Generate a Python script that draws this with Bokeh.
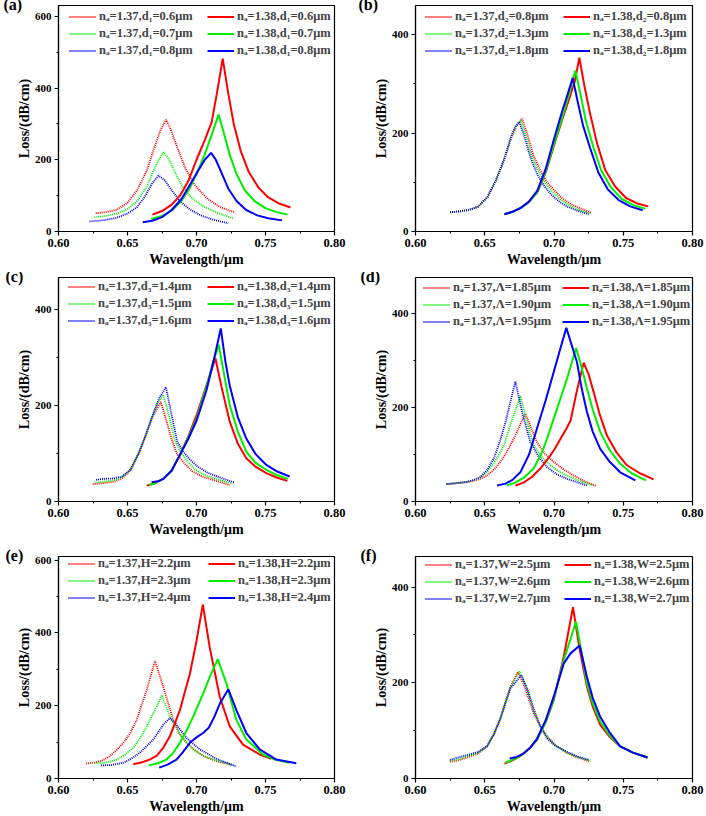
from bokeh.plotting import figure
from bokeh.layouts import gridplot
from bokeh.models import Legend, LegendItem, FixedTicker, Range1d, NumeralTickFormatter
from bokeh.embed import file_html
from bokeh.resources import INLINE

# ---------------- data ----------------
# Panel (a)
a137r_wl = [0.627,0.635,0.642,0.650,0.657,0.664,0.670,0.674,0.678,0.681,0.686,0.692,0.699,0.708,0.717,0.728]
a137r_loss = [51,54,60,80,115,170,240,283,312,287,235,175,128,91,68,53]
a137g_wl = [0.626,0.634,0.642,0.650,0.657,0.664,0.670,0.676,0.680,0.685,0.690,0.697,0.705,0.715,0.727]
a137g_loss = [40,43,50,62,85,125,180,221,202,160,125,92,70,52,36]
a137b_wl = [0.6225,0.632,0.642,0.650,0.657,0.663,0.668,0.6725,0.677,0.682,0.688,0.695,0.703,0.712,0.723]
a137b_loss = [28,31,38,50,68,100,135,156,143,115,85,62,45,33,23]
a138r_wl = [0.668,0.675,0.682,0.688,0.694,0.700,0.706,0.711,0.715,0.719,0.723,0.727,0.732,0.738,0.745,0.752,0.760,0.768]
a138r_loss = [47,57,75,100,140,200,255,305,390,482,385,300,225,165,122,95,78,67]
a138g_wl = [0.667,0.675,0.682,0.689,0.695,0.700,0.706,0.711,0.716,0.720,0.724,0.729,0.735,0.742,0.750,0.758,0.766]
a138g_loss = [35,43,58,85,120,160,215,270,326,272,215,160,115,85,65,54,47]
a138b_wl = [0.661,0.668,0.675,0.682,0.689,0.695,0.700,0.706,0.7106,0.714,0.718,0.723,0.729,0.736,0.744,0.752,0.762]
a138b_loss = [26,30,40,60,90,128,162,200,219,200,165,120,85,60,45,37,31]

# Panel (b)
b137r_wl = [0.625,0.632,0.639,0.645,0.652,0.658,0.664,0.669,0.673,0.677,0.681,0.685,0.690,0.695,0.700,0.706,0.712,0.719,0.727]
b137r_loss = [39,41,44,50,70,103,145,188,215,229,195,155,125,100,84,67,56,47,38]
b137g_wl = [0.625,0.632,0.639,0.645,0.652,0.658,0.664,0.669,0.672,0.676,0.680,0.684,0.689,0.694,0.699,0.705,0.711,0.718,0.726]
b137g_loss = [39,41,44,50,70,103,145,190,212,226,192,152,122,97,80,64,53,44,36]
b137b_wl = [0.625,0.632,0.639,0.645,0.652,0.658,0.664,0.669,0.672,0.675,0.679,0.683,0.688,0.693,0.698,0.704,0.710,0.717,0.725]
b137b_loss = [39,41,44,50,70,104,147,193,213,222,190,150,116,92,75,60,50,42,35]
b138r_wl = [0.6642,0.670,0.676,0.682,0.688,0.694,0.700,0.706,0.711,0.715,0.7183,0.722,0.726,0.731,0.737,0.744,0.752,0.760,0.768]
b138r_loss = [35,40,48,60,80,120,175,228,270,305,353,295,240,180,125,92,68,57,51]
b138g_wl = [0.6642,0.670,0.676,0.682,0.688,0.694,0.700,0.706,0.711,0.7154,0.719,0.723,0.728,0.734,0.741,0.749,0.757,0.766]
b138g_loss = [35,40,48,60,80,122,178,232,280,327,280,225,175,125,90,66,54,46]
b138b_wl = [0.6642,0.670,0.676,0.682,0.688,0.694,0.700,0.706,0.710,0.7135,0.717,0.721,0.726,0.732,0.739,0.747,0.755,0.764]
b138b_loss = [35,40,48,61,83,127,188,245,280,312,265,215,170,120,85,63,51,43]

# Panel (c)
c137r_wl = [0.6248,0.632,0.640,0.646,0.652,0.658,0.663,0.668,0.6742,0.678,0.682,0.686,0.691,0.697,0.704,0.712,0.7241]
c137r_loss = [36,38,41,48,64,98,135,175,207,170,130,98,80,63,52,45,34]
c137g_wl = [0.626,0.632,0.640,0.646,0.652,0.658,0.663,0.668,0.672,0.6759,0.680,0.684,0.688,0.693,0.699,0.706,0.714,0.7258]
c137g_loss = [39,41,44,50,65,99,136,177,205,222,180,130,105,85,66,55,47,37]
c137b_wl = [0.6272,0.632,0.640,0.646,0.652,0.658,0.663,0.668,0.673,0.6778,0.682,0.686,0.690,0.695,0.701,0.708,0.716,0.7277]
c137b_loss = [45,47,48,52,66,100,137,178,215,238,180,125,105,88,72,60,51,39]
c138r_wl = [0.6639,0.670,0.676,0.682,0.688,0.694,0.700,0.7072,0.7137,0.718,0.7241,0.730,0.7361,0.743,0.7506,0.758,0.7658]
c138r_loss = [33,38,47,65,97,135,179,241,298,240,166,120,90,72,59,50,43]
c138g_wl = [0.6655,0.670,0.676,0.682,0.688,0.694,0.700,0.7072,0.712,0.7161,0.720,0.7241,0.730,0.7361,0.743,0.7506,0.758,0.7663]
c138g_loss = [34,38,47,65,97,133,172,238,290,326,265,200,145,103,80,66,55,47]
c138b_wl = [0.6675,0.672,0.676,0.682,0.688,0.694,0.700,0.7072,0.713,0.7176,0.721,0.7241,0.730,0.7361,0.743,0.7506,0.758,0.7675]
c138b_loss = [40,42,47,64,97,130,168,231,300,360,290,241,175,131,98,76,63,52]

# Panel (d)
d137r_wl = [0.6224,0.630,0.638,0.645,0.6517,0.658,0.6637,0.669,0.6733,0.6793,0.683,0.6877,0.693,0.6998,0.707,0.7142,0.722,0.7305]
d137r_loss = [37,39,41,46,55,72,94,122,148,187,160,126,103,84,68,55,43,33]
d137g_wl = [0.6224,0.630,0.638,0.645,0.6517,0.658,0.6637,0.6709,0.6757,0.680,0.6853,0.691,0.6974,0.704,0.7118,0.720,0.7281]
d137g_loss = [37,39,42,48,62,88,119,183,224,175,119,95,77,63,52,42,34]
d137b_wl = [0.6224,0.630,0.637,0.642,0.647,0.652,0.6565,0.661,0.665,0.6721,0.677,0.6829,0.689,0.695,0.702,0.7094,0.7238]
d137b_loss = [37,39,42,46,52,68,91,128,169,255,190,126,95,73,58,48,34]
d138r_wl = [0.6721,0.678,0.684,0.6901,0.696,0.7006,0.7046,0.709,0.712,0.7165,0.7214,0.725,0.7286,0.733,0.7382,0.745,0.7526,0.762,0.7719]
d138r_loss = [34,40,52,70,92,112,133,155,172,235,295,270,233,185,140,105,77,60,47]
d138g_wl = [0.6661,0.672,0.678,0.6853,0.691,0.6955,0.6998,0.705,0.7094,0.7159,0.7195,0.7238,0.728,0.7334,0.740,0.7478,0.756,0.7663]
d138g_loss = [34,40,50,70,102,138,176,222,261,326,290,240,195,148,110,80,60,45]
d138b_wl = [0.6589,0.665,0.670,0.6757,0.682,0.6877,0.694,0.6998,0.7046,0.7089,0.7125,0.7166,0.720,0.7238,0.728,0.7334,0.740,0.7478,0.7587]
d138b_loss = [34,38,46,62,100,155,215,275,325,369,335,296,240,190,148,112,85,62,45]

# Panel (e)
e137r_wl = [0.620,0.626,0.632,0.6373,0.642,0.647,0.652,0.6566,0.6639,0.6699,0.6759,0.6831,0.688,0.6928,0.698,0.7048,0.714,0.725]
e137r_loss = [41,44,50,62,78,98,125,161,243,323,252,161,122,98,80,62,48,38]
e137g_wl = [0.626,0.632,0.6373,0.6422,0.648,0.6542,0.659,0.6639,0.6711,0.675,0.6807,0.688,0.6976,0.704,0.712,0.727]
e137g_loss = [42,43,46,52,65,84,110,143,197,229,170,120,80,64,52,36]
e137b_wl = [0.6308,0.638,0.647,0.653,0.659,0.6687,0.6759,0.6807,0.6855,0.6928,0.7024,0.7145,0.729]
e137b_loss = [36,37,43,55,71,107,148,166,148,111,80,54,33]
e138r_wl = [0.6542,0.660,0.666,0.6711,0.676,0.6807,0.688,0.6952,0.700,0.7046,0.7096,0.7169,0.7241,0.7337,0.7458,0.7542]
e138r_loss = [39,44,52,62,85,116,188,288,378,478,360,224,143,93,66,54]
e138g_wl = [0.6655,0.672,0.6783,0.683,0.688,0.693,0.6976,0.7048,0.7096,0.7154,0.7217,0.7289,0.7361,0.7482,0.757,0.767]
e138g_loss = [36,42,52,70,98,133,170,233,279,328,261,161,107,66,52,43]
e138b_wl = [0.673,0.679,0.6855,0.690,0.6952,0.700,0.7048,0.709,0.713,0.7169,0.7231,0.7289,0.7361,0.7458,0.7578,0.7723]
e138b_loss = [30,38,52,72,98,113,125,140,170,206,245,188,125,80,52,42]

# Panel (f)
f137r_wl = [0.6248,0.631,0.6373,0.645,0.6517,0.6565,0.6613,0.665,0.6685,0.674,0.679,0.6853,0.690,0.695,0.701,0.7094,0.717,0.7262]
f137r_loss = [35,38,44,52,67,92,126,160,192,223,190,136,110,88,70,53,44,35]
f137g_wl = [0.6248,0.631,0.6373,0.645,0.6517,0.6565,0.6613,0.665,0.6685,0.6752,0.680,0.6853,0.690,0.695,0.701,0.7094,0.717,0.7262]
f137g_loss = [37,40,46,53,67,92,126,160,190,224,192,140,110,87,69,54,45,37]
f137b_wl = [0.6248,0.631,0.6373,0.645,0.6517,0.6565,0.6613,0.665,0.6685,0.6764,0.681,0.6853,0.690,0.695,0.701,0.7094,0.716,0.725]
f137b_loss = [39,44,49,55,68,92,125,158,188,216,185,146,110,84,68,56,47,39]
f138r_wl = [0.6642,0.670,0.676,0.682,0.6877,0.694,0.6998,0.707,0.7137,0.7185,0.7238,0.728,0.7334,0.740,0.7478,0.757,0.7675]
f138r_loss = [31,38,48,62,81,118,164,254,358,270,192,150,112,88,67,54,44]
f138g_wl = [0.6649,0.670,0.676,0.682,0.6877,0.694,0.6998,0.707,0.7159,0.7195,0.7238,0.728,0.7334,0.740,0.7478,0.757,0.7675]
f138g_loss = [33,39,48,62,81,118,166,247,328,270,199,157,119,91,67,54,44]
f138b_wl = [0.668,0.673,0.678,0.683,0.6877,0.694,0.6998,0.707,0.7118,0.7185,0.7238,0.728,0.7334,0.740,0.7478,0.757,0.7675]
f138b_loss = [42,45,52,65,83,122,171,240,261,278,212,168,129,97,67,54,44]

# Legend labels
a_lab137 = ["nₐ=1.37,d₁=0.6μm", "nₐ=1.37,d₁=0.7μm", "nₐ=1.37,d₁=0.8μm"]
a_lab138 = ["nₐ=1.38,d₁=0.6μm", "nₐ=1.38,d₁=0.7μm", "nₐ=1.38,d₁=0.8μm"]
b_lab137 = ["nₐ=1.37,d₂=0.8μm", "nₐ=1.37,d₂=1.3μm", "nₐ=1.37,d₂=1.8μm"]
b_lab138 = ["nₐ=1.38,d₂=0.8μm", "nₐ=1.38,d₂=1.3μm", "nₐ=1.38,d₂=1.8μm"]
c_lab137 = ["nₐ=1.37,d₃=1.4μm", "nₐ=1.37,d₃=1.5μm", "nₐ=1.37,d₃=1.6μm"]
c_lab138 = ["nₐ=1.38,d₃=1.4μm", "nₐ=1.38,d₃=1.5μm", "nₐ=1.38,d₃=1.6μm"]
d_lab137 = ["nₐ=1.37,Λ=1.85μm", "nₐ=1.37,Λ=1.90μm", "nₐ=1.37,Λ=1.95μm"]
d_lab138 = ["nₐ=1.38,Λ=1.85μm", "nₐ=1.38,Λ=1.90μm", "nₐ=1.38,Λ=1.95μm"]
e_lab137 = ["nₐ=1.37,H=2.2μm", "nₐ=1.37,H=2.3μm", "nₐ=1.37,H=2.4μm"]
e_lab138 = ["nₐ=1.38,H=2.2μm", "nₐ=1.38,H=2.3μm", "nₐ=1.38,H=2.4μm"]
f_lab137 = ["nₐ=1.37,W=2.5μm", "nₐ=1.37,W=2.6μm", "nₐ=1.37,W=2.7μm"]
f_lab138 = ["nₐ=1.38,W=2.5μm", "nₐ=1.38,W=2.6μm", "nₐ=1.38,W=2.7μm"]

x_ticks = [0.60, 0.65, 0.70, 0.75, 0.80]
x_minor = [0.625, 0.675, 0.725, 0.775]
y_ticks = [0, 200, 400, 600]
y_minor = [100, 300, 500]

# ---------------- styling / layout ----------------
COLORS = ["#FF0000", "#00EE00", "#0000FF"]
FONT = "Liberation Serif"
W, H = 353, 272

# geometry per panel: left, right, top, bottom borders, legend col1 x, col2 x,
# legend top offset, tag x, y-range top
GEOM = {
    "a": (58, 19, 5, 41, 11, 149, 2.5, 3, 630),
    "b": (62, 14, 5, 41, 10, 148, 2.5, 5, 459),
    "c": (58, 18, 5, 42, 10, 149, 1.5, 5, 466),
    "d": (62, 14, 5, 43, 8, 147, 1.5, 7, 476),
    "e": (58, 18, 12, 36, 10, 150, 0.5, 5, 610),
    "f": (62, 14, 12, 37, 10, 149, 0.5, 7, 464),
}


def make_panel(tag, wl137, loss137, wl138, loss138, lab137, lab138):
    left, right, top, bottom, c1x, c2x, legtop, tagx, ymax = GEOM[tag]
    p = figure(width=W, height=H, output_backend="svg", toolbar_location=None,
               x_range=Range1d(0.6, 0.8), y_range=Range1d(0, ymax),
               min_border_left=left, min_border_right=right,
               min_border_top=top, min_border_bottom=bottom)
    p.xgrid.visible = False
    p.ygrid.visible = False
    p.outline_line_color = "black"
    p.outline_line_width = 1.2
    p.background_fill_color = "white"
    p.border_fill_color = "white"

    # panel tag drawn as the plot title, pulled down beside the frame corner
    p.title.text = "(" + tag + ")"
    p.title.text_font = FONT
    p.title.text_font_style = "bold"
    p.title.text_font_size = "16px"
    p.title.text_color = "black"
    p.title.align = "left"
    p.title.vertical_align = "top"
    p.title.standoff = -18
    p.title.offset = tagx - left

    p.xaxis.ticker = FixedTicker(ticks=x_ticks, minor_ticks=x_minor)
    p.yaxis.ticker = FixedTicker(ticks=y_ticks, minor_ticks=y_minor)
    p.xaxis.formatter = NumeralTickFormatter(format="0.00")
    p.xaxis.axis_label = "Wavelength/μm"
    p.yaxis.axis_label = "Loss/(dB/cm)"
    for ax in (p.xaxis, p.yaxis):
        ax.axis_label_text_font = FONT
        ax.axis_label_text_font_style = "bold"
        ax.axis_label_text_font_size = "14px"
        ax.major_label_text_font = FONT
        ax.major_label_text_font_style = "bold"
        ax.major_label_standoff = 3
        ax.major_tick_in = 0
        ax.major_tick_out = 4
        ax.minor_tick_in = 0
        ax.minor_tick_out = 2
        ax.axis_line_width = 1.2
        ax.major_tick_line_width = 1.2
        ax.minor_tick_line_width = 1
        ax.axis_label_text_color = "black"
        ax.major_label_text_color = "black"
    p.xaxis.axis_label_standoff = 2
    p.yaxis.axis_label_standoff = 0
    p.xaxis.major_label_text_font_size = "12.5px"
    p.yaxis.major_label_text_font_size = "11px"

    items137, items138 = [], []
    for wl, lo, col, lab in zip(wl137, loss137, COLORS, lab137):
        r = p.line(wl, lo, line_color=col, line_width=1.8, line_dash="1 1")
        items137.append(LegendItem(label=lab, renderers=[r]))
    for wl, lo, col, lab in zip(wl138, loss138, COLORS, lab138):
        r = p.line(wl, lo, line_color=col, line_width=2)
        items138.append(LegendItem(label=lab, renderers=[r]))

    frame_h = H - top - bottom
    leg_h = 3 * 17
    vy = frame_h - leg_h - legtop
    for items, cx in ((items137, c1x), (items138, c2x)):
        leg = Legend(items=items, location=(cx, vy),
                     label_text_font=FONT, label_text_font_style="bold",
                     label_text_font_size="12.5px", glyph_width=27, glyph_height=17,
                     label_height=17, label_standoff=3, spacing=0, padding=0, margin=0,
                     border_line_color=None, background_fill_alpha=0)
        p.add_layout(leg, "center")
    return p


pa = make_panel("a", [a137r_wl, a137g_wl, a137b_wl], [a137r_loss, a137g_loss, a137b_loss],
                [a138r_wl, a138g_wl, a138b_wl], [a138r_loss, a138g_loss, a138b_loss], a_lab137, a_lab138)
pb = make_panel("b", [b137r_wl, b137g_wl, b137b_wl], [b137r_loss, b137g_loss, b137b_loss],
                [b138r_wl, b138g_wl, b138b_wl], [b138r_loss, b138g_loss, b138b_loss], b_lab137, b_lab138)
pc = make_panel("c", [c137r_wl, c137g_wl, c137b_wl], [c137r_loss, c137g_loss, c137b_loss],
                [c138r_wl, c138g_wl, c138b_wl], [c138r_loss, c138g_loss, c138b_loss], c_lab137, c_lab138)
pd = make_panel("d", [d137r_wl, d137g_wl, d137b_wl], [d137r_loss, d137g_loss, d137b_loss],
                [d138r_wl, d138g_wl, d138b_wl], [d138r_loss, d138g_loss, d138b_loss], d_lab137, d_lab138)
pe = make_panel("e", [e137r_wl, e137g_wl, e137b_wl], [e137r_loss, e137g_loss, e137b_loss],
                [e138r_wl, e138g_wl, e138b_wl], [e138r_loss, e138g_loss, e138b_loss], e_lab137, e_lab138)
pf = make_panel("f", [f137r_wl, f137g_wl, f137b_wl], [f137r_loss, f137g_loss, f137b_loss],
                [f138r_wl, f138g_wl, f138b_wl], [f138r_loss, f138g_loss, f138b_loss], f_lab137, f_lab138)

grid = gridplot([[pa, pb], [pc, pd], [pe, pf]], toolbar_location=None)

open("out.html", "w").write(file_html(grid, INLINE))
